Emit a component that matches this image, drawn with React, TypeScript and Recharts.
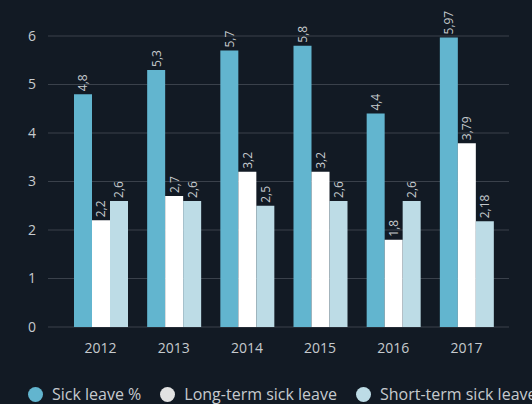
import React from 'react';
import { BarChart, Bar, XAxis, YAxis, CartesianGrid, Legend, LabelList } from 'recharts';

const years = ['2012', '2013', '2014', '2015', '2016', '2017'];
const sickLeave = [4.8, 5.3, 5.7, 5.8, 4.4, 5.97];
const longTerm = [2.2, 2.7, 3.2, 3.2, 1.8, 3.79];
const shortTerm = [2.6, 2.6, 2.5, 2.6, 2.6, 2.18];
const yTicks = [0, 1, 2, 3, 4, 5, 6];

const seriesNames = ['Sick leave %', 'Long-term sick leave', 'Short-term sick leave'];
const legendColors = ['#62b5cf', '#e2e2e2', '#bddce6'];

const BG = '#121a24';
const TEXT = '#c6cace';
const FONT = '"Open Sans", Lato, sans-serif';

const chartData = years.map((year, i) => ({
  year,
  sick: sickLeave[i],
  long: longTerm[i],
  short: shortTerm[i],
}));

// rotated value label sitting just above each bar
const RotatedLabel = (props: any) => {
  const { x, y, width, value } = props;
  const cx = x + width / 2;
  const cy = y - 3;
  return (
    <text
      x={cx}
      y={cy}
      transform={`rotate(-90, ${cx}, ${cy})`}
      textAnchor="start"
      dominantBaseline="central"
      fill={TEXT}
      fontSize={12}
      fontFamily={FONT}
    >
      {String(value).replace('.', ',')}
    </text>
  );
};

// keep legend in series order, not alphabetical
const LegendContent = () => (
  <div
    style={{
      display: 'flex',
      alignItems: 'center',
      whiteSpace: 'nowrap',
      paddingLeft: 28,
      height: 16,
      lineHeight: '16px',
    }}
  >
    {seriesNames.map((name, i) => (
      <div key={name} style={{ display: 'flex', alignItems: 'center', marginRight: 19 }}>
        <span
          style={{
            display: 'inline-block',
            width: 15,
            height: 15,
            borderRadius: '50%',
            background: legendColors[i],
            marginRight: 9,
          }}
        />
        <span style={{ color: TEXT, fontSize: 16, fontFamily: FONT }}>{name}</span>
      </div>
    ))}
  </div>
);

export default function App() {
  return (
    <div
      style={{
        position: 'fixed',
        left: 0,
        top: 0,
        width: 532,
        height: 404,
        background: BG,
        overflow: 'hidden',
      }}
    >
      <BarChart
        width={532}
        height={404}
        data={chartData}
        margin={{ top: 36, right: 23, left: 0, bottom: 47 }}
        barGap={0}
        barCategoryGap={10}
        style={{ fontFamily: FONT }}
      >
        <CartesianGrid vertical={false} stroke="#3a414b" />
        <XAxis
          dataKey="year"
          axisLine={false}
          tickLine={false}
          tickSize={0}
          tickMargin={16}
          height={30}
          padding={{ left: 16, right: 6 }}
          tick={{ fill: TEXT, fontSize: 14 }}
        />
        <YAxis
          domain={[0, 6]}
          ticks={yTicks}
          width={48}
          axisLine={false}
          tickLine={false}
          tickSize={0}
          tickMargin={12}
          tick={{ fill: TEXT, fontSize: 14 }}
        />
        <Legend
          layout="horizontal"
          verticalAlign="middle"
          align="center"
          content={<LegendContent />}
          wrapperStyle={{ top: 386, left: 0, width: 640, height: 16, overflow: 'visible' }}
        />
        <Bar dataKey="sick" name={seriesNames[0]} fill="#62b5cf" isAnimationActive={false}>
          <LabelList dataKey="sick" content={<RotatedLabel />} />
        </Bar>
        <Bar dataKey="long" name={seriesNames[1]} fill="#ffffff" isAnimationActive={false}>
          <LabelList dataKey="long" content={<RotatedLabel />} />
        </Bar>
        <Bar dataKey="short" name={seriesNames[2]} fill="#bddce6" isAnimationActive={false}>
          <LabelList dataKey="short" content={<RotatedLabel />} />
        </Bar>
      </BarChart>
    </div>
  );
}
